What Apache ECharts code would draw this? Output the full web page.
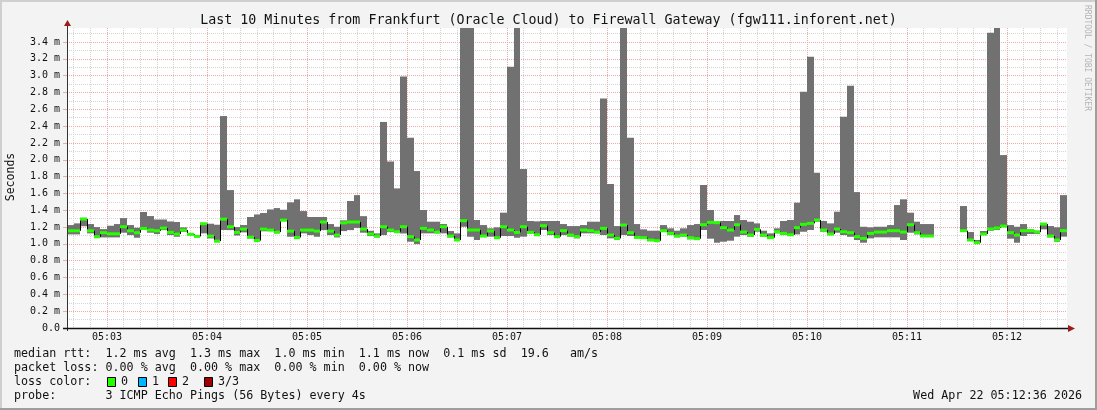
<!DOCTYPE html>
<html>
<head>
<meta charset="utf-8">
<script src="https://cdn.jsdelivr.net/npm/echarts@6.0.0/dist/echarts.min.js"></script>
<style>
  html, body { margin: 0; padding: 0; background: #f3f3f3; }
  #chart { width: 1097px; height: 410px; }
</style>
</head>
<body>
<div id="chart"></div>
<script>
// one sample every 4 s, x is seconds since 05:02:36
const stepSeconds = 4;

// median / min / max rtt per sample (ms), null = no data
const medians = [
  1.156, 1.156, 1.295, 1.156, 1.085, 1.133, 1.12, 1.12, 1.204, 1.156,
  1.133, 1.184, 1.164, 1.156, 1.188, 1.137, 1.117, 1.164, 1.113, 1.089,
  1.24, 1.093, 1.033, 1.295, 1.204, 1.137, 1.176, 1.08, 1.04, 1.176,
  1.164, 1.14, 1.283, 1.152, 1.077, 1.164, 1.164, 1.152, 1.26, 1.152,
  1.105, 1.25, 1.26, 1.26, 1.176, 1.117, 1.093, 1.204, 1.164, 1.145,
  1.204, 1.086, 1.046, 1.185, 1.165, 1.141, 1.204, 1.093, 1.046, 1.276,
  1.165, 1.165, 1.093, 1.153, 1.074, 1.204, 1.165, 1.137, 1.204, 1.137,
  1.109, 1.216, 1.133, 1.086, 1.157, 1.105, 1.086, 1.165, 1.157, 1.141,
  1.185, 1.105, 1.066, 1.224, 1.133, 1.078, 1.074, 1.046, 1.038, 1.157,
  1.125, 1.094, 1.105, 1.074, 1.062, 1.228, 1.256, 1.252, 1.193, 1.165,
  1.228, 1.141, 1.105, 1.173, 1.105, 1.074, 1.145, 1.125, 1.109, 1.193,
  1.232, 1.244, 1.284, 1.165, 1.117, 1.177, 1.145, 1.133, 1.086, 1.066,
  1.125, 1.141, 1.141, 1.157, 1.157, 1.141, 1.228, 1.133, 1.094, 1.094,
  null, null, null, null, 1.157, 1.046, 1.014, 1.117, 1.177, 1.189,
  1.212, 1.133, 1.105, 1.157, 1.157, 1.141, 1.236, 1.094, 1.046, 1.157
];
const mins = [
  1.113, 1.113, 1.21, 1.125, 1.077, 1.077, 1.077, 1.077, 1.133, 1.105,
  1.073, 1.17, 1.133, 1.117, 1.164, 1.105, 1.085, 1.144, 1.105, 1.08,
  1.125, 1.065, 1.02, 1.165, 1.164, 1.1, 1.137, 1.065, 1.03, 1.15,
  1.156, 1.125, 1.27, 1.085, 1.057, 1.125, 1.105, 1.085, 1.164, 1.105,
  1.077, 1.152, 1.164, 1.19, 1.133, 1.093, 1.077, 1.105, 1.14, 1.13,
  1.125, 1.026, 0.998, 1.125, 1.125, 1.125, 1.125, 1.078, 1.038, 1.204,
  1.086, 1.046, 1.086, 1.086, 1.066, 1.094, 1.094, 1.074, 1.086, 1.125,
  1.105, 1.165, 1.105, 1.078, 1.105, 1.086, 1.066, 1.125, 1.125, 1.125,
  1.105, 1.066, 1.046, 1.105, 1.094, 1.066, 1.066, 1.038, 1.026, 1.141,
  1.105, 1.078, 1.086, 1.054, 1.046, 1.165, 1.062, 1.014, 1.026, 1.038,
  1.086, 1.105, 1.086, 1.145, 1.086, 1.066, 1.125, 1.105, 1.105, 1.113,
  1.145, 1.165, 1.264, 1.145, 1.105, 1.133, 1.105, 1.086, 1.046, 1.014,
  1.066, 1.078, 1.078, 1.078, 1.078, 1.046, 1.133, 1.113, 1.094, 1.094,
  null, null, null, null, 1.157, 1.038, 1.006, 1.105, 1.157, 1.165,
  1.204, 1.062, 1.014, 1.094, 1.117, 1.117, 1.173, 1.078, 1.026, 1.086
];
const maxs = [
  1.224, 1.244, 1.31, 1.236, 1.2, 1.176, 1.216, 1.236, 1.307, 1.224,
  1.192, 1.379, 1.331, 1.29, 1.29, 1.267, 1.26, 1.196, 1.12, 1.095,
  1.244, 1.24, 1.228, 2.52, 1.64, 1.2, 1.224, 1.32, 1.35, 1.367,
  1.41, 1.426, 1.406, 1.494, 1.53, 1.39, 1.32, 1.32, 1.32, 1.236,
  1.204, 1.28, 1.51, 1.58, 1.33, 1.156, 1.125, 2.45, 1.98, 1.66,
  2.99, 2.262, 1.866, 1.403, 1.264, 1.264, 1.236, 1.153, 1.125, 4.1,
  4.0, 1.284, 1.224, 1.185, 1.197, 1.371, 3.106, 3.9, 1.89, 1.272,
  1.268, 1.272, 1.272, 1.272, 1.236, 1.212, 1.212, 1.224, 1.264, 1.264,
  2.73, 1.712, 1.212, 3.8, 2.262, 1.236, 1.173, 1.157, 1.157, 1.224,
  1.185, 1.157, 1.185, 1.224, 1.236, 1.70, 1.403, 1.264, 1.272, 1.272,
  1.343, 1.284, 1.264, 1.244, 1.157, 1.125, 1.185, 1.272, 1.284, 1.49,
  2.81, 3.225, 1.846, 1.272, 1.244, 1.383, 2.512, 2.88, 1.616, 1.204,
  1.197, 1.204, 1.204, 1.224, 1.462, 1.53, 1.371, 1.264, 1.236, 1.236,
  null, null, null, null, 1.45, 1.141, 1.046, 1.153, 3.51, 3.6,
  2.056, 1.224, 1.204, 1.236, 1.173, 1.157, 1.244, 1.212, 1.197, 1.58
];

// x axis labels (seconds since 05:02:36)
const minuteSeconds = [24, 84, 144, 204, 264, 324, 384, 444, 504, 564];
const minuteLabels = ['05:03', '05:04', '05:05', '05:06', '05:07', '05:08', '05:09', '05:10', '05:11', '05:12'];
// y axis
const yMajor = [0, 0.2, 0.4, 0.6, 0.8, 1.0, 1.2, 1.4, 1.6, 1.8, 2.0, 2.2, 2.4, 2.6, 2.8, 3.0, 3.2, 3.4];
const yMinor = [0.1, 0.3, 0.5, 0.7, 0.9, 1.1, 1.3, 1.5, 1.7, 1.9, 2.1, 2.3, 2.5, 2.7, 2.9, 3.1, 3.3, 3.5];

const xMinor = [];
for (let s = 4; s < 600; s += 10) {
  if (minuteSeconds.indexOf(s) < 0) xMinor.push(s);
}

const MONO = "'DejaVu Sans Mono', monospace";
const MAJOR_GRID = '#eeaaaa';
const MINOR_GRID = '#d4d4d4';
const SMOKE = '#717171';
const LOSS0 = '#26ff00';
const LEGEND_FONT = '11.7px ' + MONO;

// rows for the custom series
const smokeRows = medians.map((m, i) => [i * stepSeconds, (i + 1) * stepSeconds, mins[i], maxs[i]]);
const medianRows = medians.map((m, i) => [i * stepSeconds, (i + 1) * stepSeconds, m, i > 0 ? medians[i - 1] : null]);

const chart = echarts.init(document.getElementById('chart'));

const legendLines = [
  'median rtt:  1.2 ms avg  1.3 ms max  1.0 ms min  1.1 ms now  0.1 ms sd  19.6   am/s',
  'packet loss: 0.00 % avg  0.00 % max  0.00 % min  0.00 % now',
  'loss color:',
  'probe:       3 ICMP Echo Pings (56 Bytes) every 4s'
];
const lossColors = [
  { label: '0', color: '#26ff00', x: 107 },
  { label: '1', color: '#00b8ff', x: 138 },
  { label: '2', color: '#ff0000', x: 168 },
  { label: '3/3', color: '#a00000', x: 204 }
];

const graphics = [
  // frame
  { type: 'rect', shape: { x: 0, y: 0, width: 1097, height: 2 }, style: { fill: '#cfcfcf' } },
  { type: 'rect', shape: { x: 0, y: 0, width: 2, height: 410 }, style: { fill: '#cfcfcf' } },
  { type: 'rect', shape: { x: 0, y: 408, width: 1097, height: 2 }, style: { fill: '#9e9e9e' } },
  { type: 'rect', shape: { x: 1095, y: 0, width: 2, height: 410 }, style: { fill: '#9e9e9e' } },
  // axis extensions and arrows
  { type: 'line', shape: { x1: 67.5, y1: 331, x2: 67.5, y2: 24 }, style: { stroke: '#333', lineWidth: 1 }, z: 20 },
  { type: 'line', shape: { x1: 63, y1: 328.5, x2: 1070, y2: 328.5 }, style: { stroke: '#111', lineWidth: 1.5 }, z: 20 },
  { type: 'polygon', shape: { points: [[67.5, 20], [64, 26], [71, 26]] }, style: { fill: '#9c1b1b' }, z: 21 },
  { type: 'polygon', shape: { points: [[1075, 328.5], [1068, 325], [1068, 332]] }, style: { fill: '#9c1b1b' }, z: 21 },
  // y name
  { type: 'text', x: 11, y: 177, rotation: Math.PI / 2,
    style: { text: 'Seconds', font: '11.5px ' + MONO, fill: '#111', align: 'center', verticalAlign: 'middle' } },
  // rrdtool credit
  { type: 'text', x: 1087, y: 5, rotation: -Math.PI / 2,
    style: { text: 'RRDTOOL / TOBI OETIKER', font: '8px ' + MONO, fill: '#b4b4b4', align: 'left', verticalAlign: 'middle' } },
  // date
  { type: 'text', x: 1082, y: 396,
    style: { text: 'Wed Apr 22 05:12:36 2026', font: LEGEND_FONT, fill: '#111', align: 'right', verticalAlign: 'middle' } }
];
legendLines.forEach((t, k) => {
  graphics.push({ type: 'text', x: 14, y: 354 + k * 14,
    style: { text: t, font: LEGEND_FONT, fill: '#111', align: 'left', verticalAlign: 'middle' } });
});
lossColors.forEach((c) => {
  graphics.push({ type: 'rect', shape: { x: c.x + 0.5, y: 377.5, width: 8, height: 9 },
    style: { fill: c.color, stroke: '#000', lineWidth: 1 } });
  graphics.push({ type: 'text', x: c.x + 14, y: 382,
    style: { text: c.label, font: LEGEND_FONT, fill: '#111', align: 'left', verticalAlign: 'middle' } });
});

chart.setOption({
  backgroundColor: '#f3f3f3',
  animation: false,
  title: {
    text: 'Last 10 Minutes from Frankfurt (Oracle Cloud) to Firewall Gateway (fgw111.inforent.net)',
    left: 'center',
    top: 9,
    textStyle: { fontFamily: MONO, fontSize: 13.3, fontWeight: 'normal', color: '#111' }
  },
  grid: {
    left: 67, right: 30, top: 28, bottom: 82,
    show: true, backgroundColor: '#ffffff', borderWidth: 0
  },
  xAxis: [
    {
      type: 'value', min: 0, max: 600, position: 'bottom',
      axisLine: { show: false },
      axisTick: { show: false, customValues: minuteSeconds },
      axisLabel: {
        customValues: minuteSeconds, margin: 4,
        fontFamily: MONO, fontSize: 10, color: '#111',
        formatter: (v) => minuteLabels[minuteSeconds.indexOf(v)]
      },
      splitLine: { show: true, lineStyle: { color: MAJOR_GRID, type: [1, 1], width: 1 } },
      z: 3
    },
    {
      type: 'value', min: 0, max: 600, position: 'top',
      axisLine: { show: false },
      axisTick: { show: false, customValues: xMinor },
      axisLabel: { show: false },
      splitLine: { show: true, lineStyle: { color: MINOR_GRID, type: [1, 1], width: 1 } },
      z: 2
    }
  ],
  yAxis: [
    {
      type: 'value', min: 0, max: 3.567, position: 'left',
      axisLine: { show: false },
      axisTick: { show: true, length: 4, customValues: yMajor, lineStyle: { color: MAJOR_GRID } },
      axisLabel: {
        customValues: yMajor, margin: 7,
        fontFamily: MONO, fontSize: 10, color: '#111',
        formatter: (v) => (v === 0 ? '0.0' : v.toFixed(1) + ' m')
      },
      splitLine: { show: true, lineStyle: { color: MAJOR_GRID, type: [1, 1], width: 1 } },
      z: 3
    },
    {
      type: 'value', min: 0, max: 3.567, position: 'right',
      axisLine: { show: false },
      axisTick: { show: false, customValues: yMinor },
      axisLabel: { show: false },
      splitLine: { show: true, lineStyle: { color: MINOR_GRID, type: [1, 1], width: 1 } },
      z: 2
    }
  ],
  series: [
    {
      name: 'smoke',
      type: 'custom',
      clip: true,
      z: 5,
      data: smokeRows,
      renderItem: (params, api) => {
        const lo = api.value(2), hi = api.value(3);
        if (isNaN(lo) || isNaN(hi)) return null;
        const a = api.coord([api.value(0), hi]);
        const b = api.coord([api.value(1), lo]);
        const x0 = Math.round(a[0]), x1 = Math.round(b[0]);
        return {
          type: 'rect',
          shape: { x: x0, y: a[1], width: x1 - x0, height: b[1] - a[1] },
          style: { fill: SMOKE }
        };
      }
    },
    {
      name: 'median rtt',
      type: 'custom',
      clip: true,
      z: 6,
      data: medianRows,
      renderItem: (params, api) => {
        const med = api.value(2), prev = api.value(3);
        if (isNaN(med)) return null;
        const p = api.coord([api.value(0), med]);
        const x0 = Math.round(p[0]);
        const x1 = Math.round(api.coord([api.value(1), med])[0]);
        const children = [];
        if (!isNaN(prev)) {
          const q = api.coord([api.value(0), prev]);
          children.push({
            type: 'line',
            shape: { x1: x0 + 0.5, y1: q[1], x2: x0 + 0.5, y2: p[1] },
            style: { stroke: '#000', lineWidth: 1 }
          });
        }
        children.push({
          type: 'rect',
          shape: { x: x0, y: p[1] - 1.5, width: x1 - x0, height: 3 },
          style: { fill: LOSS0 }
        });
        return { type: 'group', children: children };
      }
    }
  ],
  graphic: graphics
});
</script>
</body>
</html>
